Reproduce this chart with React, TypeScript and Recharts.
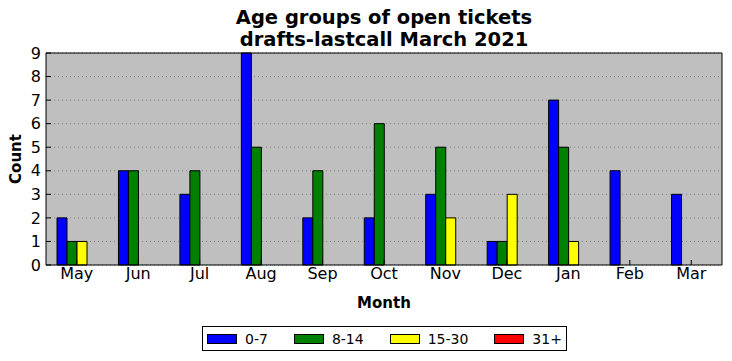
import { Bar, BarChart, CartesianGrid, XAxis, YAxis } from 'recharts'

const months = ['May', 'Jun', 'Jul', 'Aug', 'Sep', 'Oct', 'Nov', 'Dec', 'Jan', 'Feb', 'Mar']
const age0to7 = [2, 4, 3, 9, 2, 2, 3, 1, 7, 4, 3]
const age8to14 = [1, 4, 4, 5, 4, 6, 5, 1, 5, 0, 0]
const age15to30 = [1, 0, 0, 0, 0, 0, 2, 3, 1, 0, 0]
const age31plus = [0, 0, 0, 0, 0, 0, 0, 0, 0, 0, 0]
const yTicks = [0, 1, 2, 3, 4, 5, 6, 7, 8, 9]

const series = [
  { key: 'a', name: '0-7', color: '#0000ff', values: age0to7 },
  { key: 'b', name: '8-14', color: '#008000', values: age8to14 },
  { key: 'c', name: '15-30', color: '#ffff00', values: age15to30 },
  { key: 'd', name: '31+', color: '#ff0000', values: age31plus },
]

const data = months.map((month, i) => {
  const row: Record<string, string | number> = { month }
  series.forEach((s) => {
    row[s.key] = s.values[i]
  })
  return row
})

const font = '"DejaVu Sans", sans-serif'

export default function App() {
  return (
    <div
      style={{
        position: 'absolute',
        left: 0,
        top: 0,
        width: 732,
        height: 361,
        background: '#fff',
        fontFamily: font,
        color: '#000',
      }}
    >
      <div
        style={{
          position: 'absolute',
          left: 46,
          width: 676,
          top: 7,
          textAlign: 'center',
          fontWeight: 'bold',
          fontSize: 19.5,
          lineHeight: '22px',
        }}
      >
        Age groups of open tickets
        <br />
        drafts-lastcall March 2021
      </div>
      <div
        style={{
          position: 'absolute',
          left: 16,
          top: 159,
          transform: 'translate(-50%, -50%) rotate(-90deg)',
          fontWeight: 'bold',
          fontSize: 15,
        }}
      >
        Count
      </div>
      <div
        style={{
          position: 'absolute',
          left: 46,
          width: 676,
          top: 294,
          textAlign: 'center',
          fontWeight: 'bold',
          fontSize: 15,
        }}
      >
        Month
      </div>
      <BarChart
        width={732}
        height={361}
        data={data}
        margin={{ top: 52, right: 9, bottom: 66, left: 6 }}
        barGap={0}
        barSize={10}
      >
        <CartesianGrid
          vertical={false}
          fill="#bfbfbf"
          stroke="#808080"
          strokeDasharray="1 3"
        />
        <XAxis
          dataKey="month"
          height={30}
          tickSize={-5}
          tickMargin={8}
          stroke="#000"
          tick={{ fill: '#000', fontSize: 16, fontFamily: font }}
        />
        <XAxis
          xAxisId="top"
          dataKey="month"
          orientation="top"
          height={1}
          tickSize={-5}
          tick={false}
          stroke="#000"
        />
        <YAxis
          domain={[0, 9]}
          ticks={yTicks}
          width={40}
          tickSize={-5}
          tickMargin={10}
          stroke="#000"
          interval={0}
          tick={{ fill: '#000', fontSize: 16, fontFamily: font }}
        />
        <YAxis
          yAxisId="right"
          orientation="right"
          domain={[0, 9]}
          ticks={yTicks}
          width={1}
          tickSize={-5}
          tick={false}
          stroke="#000"
        />
        {series.map((s) => (
          <Bar
            key={s.key}
            dataKey={s.key}
            name={s.name}
            fill={s.color}
            stroke="#000"
            strokeWidth={1}
            isAnimationActive={false}
          />
        ))}
      </BarChart>
      <div
        style={{
          position: 'absolute',
          left: 202,
          top: 326,
          width: 363,
          height: 23,
          border: '1px solid #000',
          display: 'flex',
          alignItems: 'center',
          fontSize: 14,
          whiteSpace: 'nowrap',
        }}
      >
        {series.map((s) => (
          <span
            key={s.key}
            style={{ display: 'inline-flex', alignItems: 'center', marginLeft: 4, marginRight: 22 }}
          >
            <span
              style={{
                display: 'inline-block',
                width: 28,
                height: 8,
                background: s.color,
                border: '1px solid #000',
                marginRight: 8,
              }}
            />
            {s.name}
          </span>
        ))}
      </div>
    </div>
  )
}
